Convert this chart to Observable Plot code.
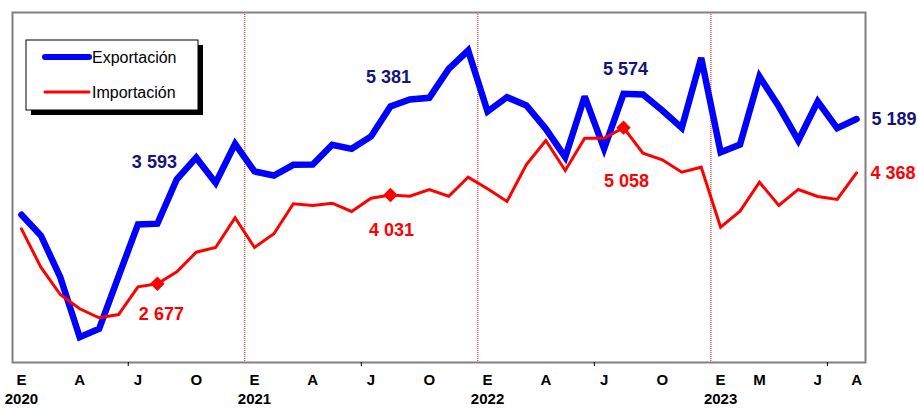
<!DOCTYPE html>
<html>
<head>
<meta charset="utf-8">
<script src="https://cdn.jsdelivr.net/npm/d3@7"></script>
<script src="https://cdn.jsdelivr.net/npm/@observablehq/plot@0.6"></script>
<style>
  html, body { margin: 0; padding: 0; background: #fff; }
  #chart svg { display: block; }
</style>
</head>
<body>
<div id="chart"></div>
<script>
// ---- Data (monthly, Jan 2020 .. Aug 2023) ----
const exportacion = [
  3729, 3413, 2777, 1862, 1990, 2790, 3581, 3593, 4270, 4600, 4215, 4811,
  4390, 4328, 4491, 4496, 4796, 4735, 4923, 5381, 5487, 5513, 5955, 6234,
  5304, 5522, 5396, 5040, 4607, 5533, 4735, 5574, 5563, 5319, 5055, 6123,
  4683, 4801, 5838, 5380, 4862, 5457, 5049, 5189
];
const importacion = [
  3515, 2930, 2513, 2295, 2158, 2208, 2630, 2677, 2860, 3158, 3230, 3683,
  3230, 3439, 3897, 3871, 3906, 3779, 3982, 4031, 4012, 4115, 4012, 4302,
  4125, 3932, 4496, 4862, 4404, 4897, 4897, 5058, 4668, 4567, 4378, 4455,
  3540, 3784, 4226, 3871, 4115, 4008, 3962, 4368
];
const monthTickIdx    = [0, 3, 6, 9, 12, 15, 18, 21, 24, 27, 30, 33, 36, 38, 41, 43];
const monthTickLabels = ["E","A","J","O","E","A","J","O","E","A","J","O","E","M","J","A"];
const yearTickIdx     = [0, 12, 24, 36];
const yearLabels      = ["2020", "2021", "2022", "2023"];
const yearDividers    = [11.5, 23.5, 35.5];
const midYearTicks    = [5.5, 17.5, 29.5, 41.5];
const labeledIdx      = [7, 19, 31, 43];   // August of each year
const markerIdx       = [7, 19, 31];
const seriesNames     = ["Exportación", "Importación"];

// ---- Build table ----
const rows = exportacion.map((v, i) => ({ i, exp: v, imp: importacion[i] }));
const fmt = v => `${Math.floor(v / 1000)} ${String(v % 1000).padStart(3, "0")}`;

// label offsets (pixels)
const expDx = [-3, -2, 2, 15], expDy = [-61, -29, -25, 0];
const impDx = [4, 1, 3, 14],  impDy = [30, 35, 54, 0];

const navy = "#14147a", blue = "#0000ff", red = "#ff0000";
const font = "'Liberation Sans', Arial, sans-serif";

const labelMarks = [];
labeledIdx.forEach((idx, k) => {
  const last = k === labeledIdx.length - 1;
  labelMarks.push(Plot.text([rows[idx]], {
    x: "i", y: "exp", text: d => fmt(d.exp), fill: navy,
    fontSize: 18, fontWeight: "bold", dx: expDx[k], dy: expDy[k],
    textAnchor: last ? "start" : "middle"
  }));
  labelMarks.push(Plot.text([rows[idx]], {
    x: "i", y: "imp", text: d => fmt(d.imp), fill: red,
    fontSize: 18, fontWeight: "bold", dx: impDx[k], dy: impDy[k],
    textAnchor: last ? "start" : "middle"
  }));
});

const chart = Plot.plot({
  width: 918,
  height: 409,
  marginLeft: 12,
  marginRight: 53,
  marginTop: 12,
  marginBottom: 47,
  x: { domain: [-0.46, 43.46], label: null },
  y: { domain: [1476, 6814], axis: null },
  style: { fontFamily: font, background: "white", overflow: "visible" },
  marks: [
    Plot.ruleX(yearDividers, { stroke: red, strokeWidth: 1, strokeDasharray: "1,1" }),
    Plot.line(rows, { x: "i", y: "exp", stroke: blue, strokeWidth: 6.5,
      strokeLinejoin: "miter", strokeMiterlimit: 3, strokeLinecap: "round" }),
    Plot.line(rows, { x: "i", y: "imp", stroke: red, strokeWidth: 3,
      strokeLinejoin: "miter", strokeMiterlimit: 3 }),
    Plot.dot(markerIdx.map(i => rows[i]), { x: "i", y: "imp", symbol: "diamond2",
      r: 6.5, fill: red, stroke: null }),
    Plot.frame({ stroke: "#808080", strokeWidth: 2 }),
    Plot.axisX({ ticks: midYearTicks, tickSize: 4, tickFormat: () => "", label: null, stroke: "#000" }),
    Plot.text(monthTickIdx, { x: d => d, text: (d, k) => monthTickLabels[k],
      frameAnchor: "bottom", dy: 22, fontSize: 15, fontWeight: "bold", fill: "#000" }),
    Plot.text(yearTickIdx, { x: d => d, text: (d, k) => yearLabels[k],
      frameAnchor: "bottom", dy: 41, fontSize: 15, fontWeight: "bold", fill: "#000" }),
    ...labelMarks
  ]
});

document.getElementById("chart").appendChild(chart);

// ---- Legend box (inside plot area) ----
const svg = d3.select(chart);
const g = svg.append("g").attr("font-family", font).attr("text-anchor", "start");
g.append("rect").attr("x", 31).attr("y", 45).attr("width", 172).attr("height", 70).attr("fill", "#000");
g.append("rect").attr("x", 26).attr("y", 40).attr("width", 172).attr("height", 70)
  .attr("fill", "#fff").attr("stroke", "#000").attr("stroke-width", 1);
const legendItems = [
  { name: seriesNames[0], color: blue, w: 6, y: 57 },
  { name: seriesNames[1], color: red, w: 3, y: 92 }
];
legendItems.forEach(it => {
  g.append("line").attr("x1", 45).attr("x2", 89).attr("y1", it.y).attr("y2", it.y)
    .attr("stroke", it.color).attr("stroke-width", it.w).attr("stroke-linecap", "round");
  g.append("text").attr("x", 92).attr("y", it.y).attr("dy", "0.35em")
    .attr("text-anchor", "start").attr("font-size", 16).attr("fill", "#000").text(it.name);
});
</script>
</body>
</html>
